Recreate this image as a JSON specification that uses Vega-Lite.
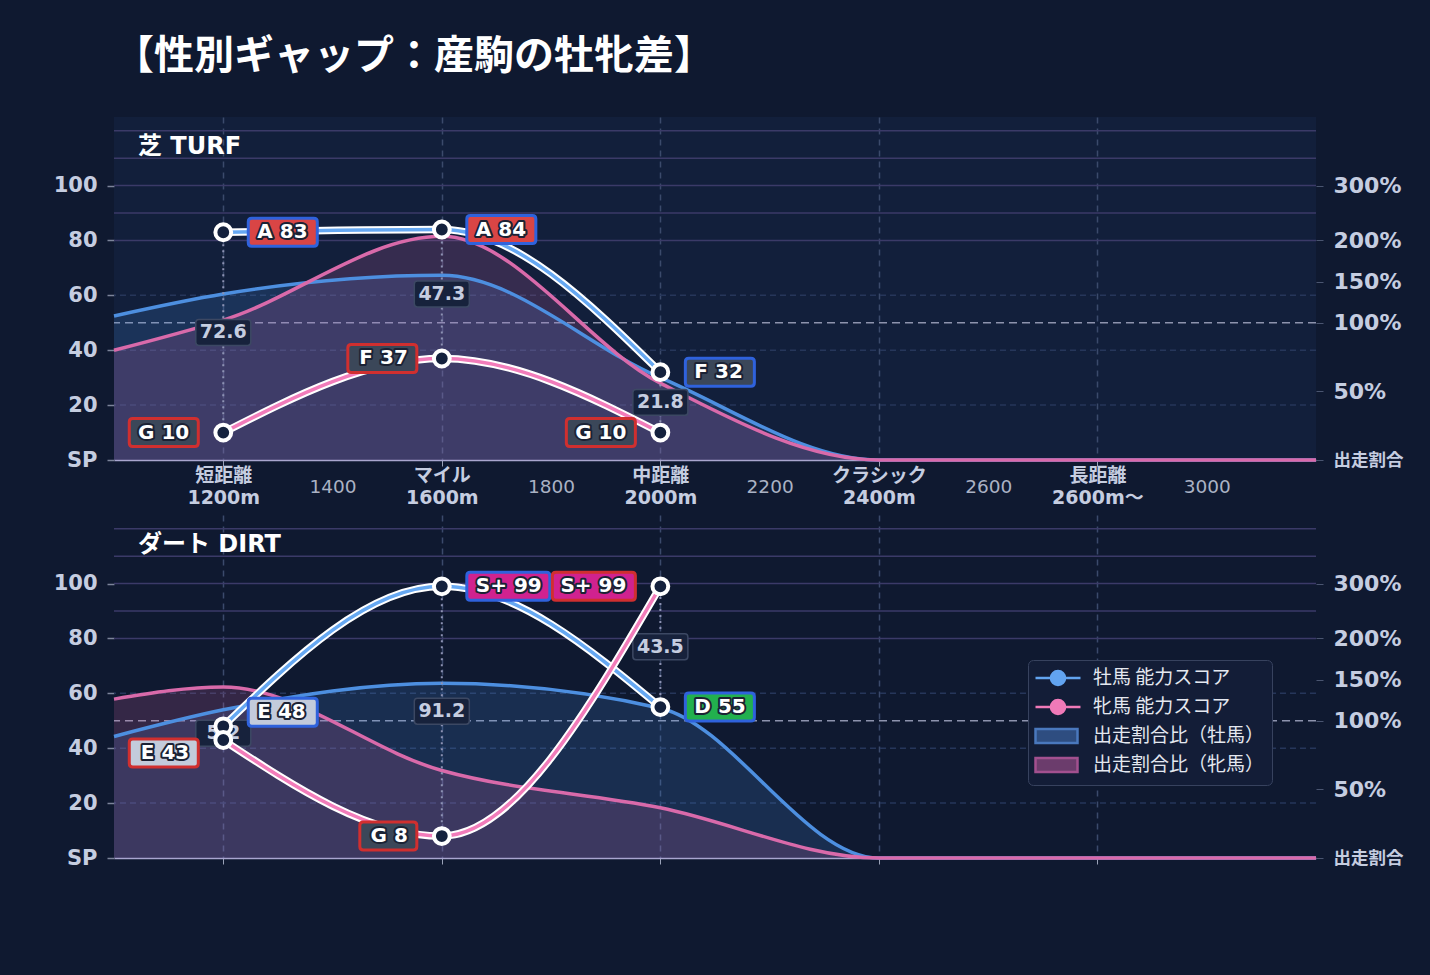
{
  "$schema": "https://vega.github.io/schema/vega-lite/v6.json",
  "background": "#0f1930",
  "padding": {"left": 53, "top": 37, "right": 30, "bottom": 120},
  "title": {
    "text": "【性別ギャップ：産駒の牡牝差】",
    "anchor": "start",
    "frame": "group",
    "font": "Noto Sans CJK JP",
    "fontSize": 40,
    "fontWeight": "bold",
    "color": "#ffffff",
    "offset": 40
  },
  "datasets": {
    "grid": [
      {"v": 20, "kind": "minor"},
      {"v": 40, "kind": "minor"},
      {"v": 60, "kind": "minor"},
      {"v": 50, "kind": "ref"},
      {"v": 80, "kind": "band"},
      {"v": 90, "kind": "band"},
      {"v": 100, "kind": "band"},
      {"v": 110, "kind": "band"},
      {"v": 120, "kind": "band"}
    ],
    "ratio": [
      {"surface": "turf", "sex": "M", "dist": 1000, "v": 52.5},
      {"surface": "turf", "sex": "M", "dist": 1200, "v": 60.5},
      {"surface": "turf", "sex": "M", "dist": 1600, "v": 67.3},
      {"surface": "turf", "sex": "M", "dist": 2000, "v": 30},
      {"surface": "turf", "sex": "M", "dist": 2400, "v": 0},
      {"surface": "turf", "sex": "M", "dist": 2800, "v": 0},
      {"surface": "turf", "sex": "M", "dist": 3200, "v": 0},
      {"surface": "turf", "sex": "F", "dist": 1000, "v": 40},
      {"surface": "turf", "sex": "F", "dist": 1200, "v": 51},
      {"surface": "turf", "sex": "F", "dist": 1600, "v": 81.5},
      {"surface": "turf", "sex": "F", "dist": 2000, "v": 28},
      {"surface": "turf", "sex": "F", "dist": 2400, "v": 0},
      {"surface": "turf", "sex": "F", "dist": 2800, "v": 0},
      {"surface": "turf", "sex": "F", "dist": 3200, "v": 0},
      {"surface": "dirt", "sex": "M", "dist": 1000, "v": 44.3},
      {"surface": "dirt", "sex": "M", "dist": 1200, "v": 54},
      {"surface": "dirt", "sex": "M", "dist": 1600, "v": 63.7},
      {"surface": "dirt", "sex": "M", "dist": 2000, "v": 54.6},
      {"surface": "dirt", "sex": "M", "dist": 2400, "v": 0},
      {"surface": "dirt", "sex": "M", "dist": 2800, "v": 0},
      {"surface": "dirt", "sex": "M", "dist": 3200, "v": 0},
      {"surface": "dirt", "sex": "F", "dist": 1000, "v": 57.9},
      {"surface": "dirt", "sex": "F", "dist": 1200, "v": 62.3},
      {"surface": "dirt", "sex": "F", "dist": 1600, "v": 31.9},
      {"surface": "dirt", "sex": "F", "dist": 2000, "v": 18.3},
      {"surface": "dirt", "sex": "F", "dist": 2400, "v": 0},
      {"surface": "dirt", "sex": "F", "dist": 2800, "v": 0},
      {"surface": "dirt", "sex": "F", "dist": 3200, "v": 0}
    ],
    "score": [
      {"surface": "turf", "sex": "M", "dist": 1200, "score": 83, "grade": "A", "label": "A 83"},
      {"surface": "turf", "sex": "M", "dist": 1600, "score": 84, "grade": "A", "label": "A 84"},
      {"surface": "turf", "sex": "M", "dist": 2000, "score": 32, "grade": "F", "label": "F 32"},
      {"surface": "turf", "sex": "F", "dist": 1200, "score": 10, "grade": "G", "label": "G 10"},
      {"surface": "turf", "sex": "F", "dist": 1600, "score": 37, "grade": "F", "label": "F 37"},
      {"surface": "turf", "sex": "F", "dist": 2000, "score": 10, "grade": "G", "label": "G 10"},
      {"surface": "dirt", "sex": "M", "dist": 1200, "score": 48, "grade": "E", "label": "E 48"},
      {"surface": "dirt", "sex": "M", "dist": 1600, "score": 99, "grade": "S+", "label": "S+ 99"},
      {"surface": "dirt", "sex": "M", "dist": 2000, "score": 55, "grade": "D", "label": "D 55"},
      {"surface": "dirt", "sex": "F", "dist": 1200, "score": 43, "grade": "E", "label": "E 43"},
      {"surface": "dirt", "sex": "F", "dist": 1600, "score": 8, "grade": "G", "label": "G 8"},
      {"surface": "dirt", "sex": "F", "dist": 2000, "score": 99, "grade": "S+", "label": "S+ 99"}
    ],
    "gap": [
      {"surface": "turf", "dist": 1200, "m": 83, "f": 10, "mid": 46.5, "val": "72.6"},
      {"surface": "turf", "dist": 1600, "m": 84, "f": 37, "mid": 60.5, "val": "47.3"},
      {"surface": "turf", "dist": 2000, "m": 32, "f": 10, "mid": 21, "val": "21.8"},
      {"surface": "dirt", "dist": 1200, "m": 48, "f": 43, "mid": 45.5, "val": "5.2"},
      {"surface": "dirt", "dist": 1600, "m": 99, "f": 8, "mid": 53.5, "val": "91.2"},
      {"surface": "dirt", "dist": 2000, "m": 55, "f": 99, "mid": 77, "val": "43.5"}
    ],
    "legend": [
      {"name": "牡馬 能力スコア"},
      {"name": "牝馬 能力スコア"},
      {"name": "出走割合比（牡馬）"},
      {"name": "出走割合比（牝馬）"}
    ]
  },
  "vconcat": [
    {
      "width": 1202,
      "height": 343,
      "title": {"text": "芝 TURF", "anchor": "start", "frame": "group", "offset": -42, "dx": 24, "fontSize": 24, "fontWeight": "bold", "color": "#ffffff"},
      "resolve": {"scale": {"shape": "independent"}, "axis": {"y": "independent"}},
      "layer": [
        {
          "data": {"name": "grid"},
          "mark": {"type": "rule", "strokeWidth": 1.5},
          "encoding": {
            "y": {"field": "v", "type": "quantitative", "scale": {"domain": [0, 125], "nice": false},
              "axis": {"orient": "left", "values": [0, 20, 40, 60, 80, 100], "labelExpr": "datum.value == 0 ? 'SP' : datum.label", "title": null, "grid": false, "domain": false, "tickSize": 7, "tickWidth": 1.5, "tickColor": "#7c849a", "labelPadding": 10, "labelFontSize": 21, "labelFontWeight": "bold", "labelColor": "#c5cde0"}},
            "color": {"field": "kind", "type": "nominal", "scale": {"domain": ["minor", "ref", "band"], "range": ["#26365a", "#8d93ad", "#3b3a68"]}, "legend": null},
            "strokeDash": {"field": "kind", "type": "nominal", "scale": {"domain": ["minor", "ref", "band"], "range": [[6, 4], [8, 5], [1, 0]]}, "legend": null}
          }
        },
        {
          "data": {"name": "ratio"},
          "transform": [{"filter": "datum.surface == 'turf' && datum.sex == 'M'"}],
          "mark": {"type": "area", "interpolate": "monotone", "color": "#4a90e2", "fillOpacity": 0.18},
          "encoding": {
            "x": {"field": "dist", "type": "quantitative", "scale": {"domain": [1000, 3200], "nice": false, "zero": false},
              "axis": {"values": [1200, 1400, 1600, 1800, 2000, 2200, 2400, 2600, 2800, 3000], "title": null,
                "labelExpr": "datum.value == 1200 ? ['短距離', '1200m'] : datum.value == 1600 ? ['マイル', '1600m'] : datum.value == 2000 ? ['中距離', '2000m'] : datum.value == 2400 ? ['クラシック', '2400m'] : datum.value == 2800 ? ['長距離', '2600m〜'] : '' + datum.value",
                "labelFontWeight": {"condition": {"test": "datum.value % 400 == 0", "value": "bold"}, "value": "normal"},
                "labelFontSize": {"condition": {"test": "datum.value % 400 == 0", "value": 19}, "value": 18.5},
                "labelColor": {"condition": {"test": "datum.value % 400 == 0", "value": "#c5cde0"}, "value": "#aab2c4"},
                "labelPadding": {"condition": {"test": "datum.value % 400 == 0", "value": 9}, "value": 20},
                "labelBaseline": "middle", "labelLineHeight": 22, "labelOverlap": false, "labelBound": false, "labelFlush": false,
                "tickSize": 6, "tickColor": "#9aa2b8", "tickOpacity": {"condition": {"test": "datum.value % 400 == 0", "value": 1}, "value": 0},
                "grid": true, "gridColor": "#3b4a6b", "gridDash": [6, 5], "gridWidth": 1.5, "gridOpacity": {"condition": {"test": "datum.value % 400 == 0", "value": 1}, "value": 0},
                "domainColor": "#a9a6cf", "domainWidth": 1.5}},
            "y": {"field": "v", "type": "quantitative", "stack": null, "scale": {"domain": [0, 125], "nice": false},
              "axis": {"orient": "right", "values": [0, 25, 50, 65, 80, 100], "labelExpr": "datum.value == 0 ? '出走割合' : datum.value == 25 ? '50%' : datum.value == 50 ? '100%' : datum.value == 65 ? '150%' : datum.value == 80 ? '200%' : '300%'", "title": null, "grid": false, "domain": false, "tickSize": 7, "tickColor": "#4a5570", "labelPadding": 10, "labelFontSize": {"condition": {"test": "datum.value == 0", "value": 17.5}, "value": 22}, "labelFontWeight": "bold", "labelColor": "#c5cde0"}}
          }
        },
        {
          "data": {"name": "ratio"},
          "transform": [{"filter": "datum.surface == 'turf' && datum.sex == 'F'"}],
          "mark": {"type": "area", "interpolate": "monotone", "color": "#e06aaa", "fillOpacity": 0.18},
          "encoding": {
            "x": {"field": "dist", "type": "quantitative"},
            "y": {"field": "v", "type": "quantitative", "stack": null, "scale": {"domain": [0, 125], "nice": false}, "axis": null}
          }
        },
        {
          "data": {"name": "ratio"},
          "transform": [{"filter": "datum.surface == 'turf' && datum.sex == 'M'"}],
          "mark": {"type": "line", "interpolate": "monotone", "color": "#4d8fe0", "strokeWidth": 3.5},
          "encoding": {
            "x": {"field": "dist", "type": "quantitative"},
            "y": {"field": "v", "type": "quantitative", "scale": {"domain": [0, 125], "nice": false}, "axis": null}
          }
        },
        {
          "data": {"name": "ratio"},
          "transform": [{"filter": "datum.surface == 'turf' && datum.sex == 'F'"}],
          "mark": {"type": "line", "interpolate": "monotone", "color": "#d96aaa", "strokeWidth": 3.5},
          "encoding": {
            "x": {"field": "dist", "type": "quantitative"},
            "y": {"field": "v", "type": "quantitative", "scale": {"domain": [0, 125], "nice": false}, "axis": null}
          }
        },
        {
          "data": {"name": "gap"},
          "transform": [{"filter": "datum.surface == 'turf'"}],
          "mark": {"type": "rule", "color": "#8d92b3", "strokeWidth": 2, "strokeDash": [2, 4]},
          "encoding": {
            "x": {"field": "dist", "type": "quantitative"},
            "y": {"field": "m", "type": "quantitative", "scale": {"domain": [0, 125], "nice": false}, "axis": null},
            "y2": {"field": "f"}
          }
        },
        {
          "data": {"name": "gap"},
          "transform": [{"filter": "datum.surface == 'turf'"}],
          "mark": {"type": "point", "shape": "M-0.696,-0.371H0.696Q0.786,-0.371 0.786,-0.281V0.281Q0.786,0.371 0.696,0.371H-0.696Q-0.786,0.371 -0.786,0.281V-0.281Q-0.786,-0.371 -0.696,-0.371Z", "filled": true, "size": 4900, "fill": "#17223c", "stroke": "#3c4863", "strokeWidth": 1.5, "opacity": 1},
          "encoding": {
            "x": {"field": "dist", "type": "quantitative"},
            "y": {"field": "mid", "type": "quantitative", "scale": {"domain": [0, 125], "nice": false}, "axis": null}
          }
        },
        {
          "data": {"name": "gap"},
          "transform": [{"filter": "datum.surface == 'turf'"}],
          "mark": {"type": "text", "fontSize": 19, "fontWeight": "bold", "fill": "#c5cde0", "baseline": "middle"},
          "encoding": {
            "x": {"field": "dist", "type": "quantitative"},
            "y": {"field": "mid", "type": "quantitative", "scale": {"domain": [0, 125], "nice": false}, "axis": null},
            "text": {"field": "val"}
          }
        },
        {
          "data": {"name": "score"},
          "transform": [{"filter": "datum.surface == 'turf' && datum.sex == 'M'"}],
          "mark": {"type": "line", "interpolate": "monotone", "color": "#ffffff", "strokeWidth": 7.5, "strokeCap": "round"},
          "encoding": {
            "x": {"field": "dist", "type": "quantitative"},
            "y": {"field": "score", "type": "quantitative", "scale": {"domain": [0, 125], "nice": false}, "axis": null}
          }
        },
        {
          "data": {"name": "score"},
          "transform": [{"filter": "datum.surface == 'turf' && datum.sex == 'M'"}],
          "mark": {"type": "line", "interpolate": "monotone", "color": "#66a8f2", "strokeWidth": 3.5, "strokeCap": "round"},
          "encoding": {
            "x": {"field": "dist", "type": "quantitative"},
            "y": {"field": "score", "type": "quantitative", "scale": {"domain": [0, 125], "nice": false}, "axis": null}
          }
        },
        {
          "data": {"name": "score"},
          "transform": [{"filter": "datum.surface == 'turf' && datum.sex == 'F'"}],
          "mark": {"type": "line", "interpolate": "monotone", "color": "#ffffff", "strokeWidth": 7.5, "strokeCap": "round"},
          "encoding": {
            "x": {"field": "dist", "type": "quantitative"},
            "y": {"field": "score", "type": "quantitative", "scale": {"domain": [0, 125], "nice": false}, "axis": null}
          }
        },
        {
          "data": {"name": "score"},
          "transform": [{"filter": "datum.surface == 'turf' && datum.sex == 'F'"}],
          "mark": {"type": "line", "interpolate": "monotone", "color": "#f27cba", "strokeWidth": 3.5, "strokeCap": "round"},
          "encoding": {
            "x": {"field": "dist", "type": "quantitative"},
            "y": {"field": "score", "type": "quantitative", "scale": {"domain": [0, 125], "nice": false}, "axis": null}
          }
        },
        {
          "data": {"name": "score"},
          "transform": [{"filter": "datum.surface == 'turf'"}],
          "mark": {"type": "point", "shape": "circle", "filled": true, "size": 250, "fill": "#14213d", "stroke": "#ffffff", "strokeWidth": 4, "opacity": 1},
          "encoding": {
            "x": {"field": "dist", "type": "quantitative"},
            "y": {"field": "score", "type": "quantitative", "scale": {"domain": [0, 125], "nice": false}, "axis": null}
          }
        },
        {
          "data": {"name": "score"},
          "transform": [{"filter": "datum.surface == 'turf' && datum.sex == 'M'"}],
          "mark": {"type": "point", "shape": "M0.814,-0.4H2.586Q2.686,-0.4 2.686,-0.3V0.3Q2.686,0.4 2.586,0.4H0.814Q0.714,0.4 0.714,0.3V-0.3Q0.714,-0.4 0.814,-0.4Z", "filled": true, "size": 4900, "stroke": "#2f62dc", "strokeWidth": 3, "opacity": 1},
          "encoding": {
            "x": {"field": "dist", "type": "quantitative"},
            "y": {"field": "score", "type": "quantitative", "scale": {"domain": [0, 125], "nice": false}, "axis": null},
            "fill": {"field": "grade", "type": "nominal", "scale": {"domain": ["A", "D", "E", "F", "G", "S+"], "range": ["#d94545", "#22b04e", "#c3cbdb", "#3b4759", "#3b4759", "#d0228f"]}, "legend": null}
          }
        },
        {
          "data": {"name": "score"},
          "transform": [{"filter": "datum.surface == 'turf' && datum.sex == 'M'"}],
          "mark": {"type": "text", "align": "left", "dx": 34, "baseline": "middle", "fontSize": 20, "fontWeight": "bold", "fill": "#1b2234", "stroke": "#1b2234", "strokeWidth": 4, "strokeJoin": "round"},
          "encoding": {
            "x": {"field": "dist", "type": "quantitative"},
            "y": {"field": "score", "type": "quantitative", "scale": {"domain": [0, 125], "nice": false}, "axis": null},
            "text": {"field": "label"}
          }
        },
        {
          "data": {"name": "score"},
          "transform": [{"filter": "datum.surface == 'turf' && datum.sex == 'M'"}],
          "mark": {"type": "text", "align": "left", "dx": 34, "baseline": "middle", "fontSize": 20, "fontWeight": "bold", "fill": "#ffffff"},
          "encoding": {
            "x": {"field": "dist", "type": "quantitative"},
            "y": {"field": "score", "type": "quantitative", "scale": {"domain": [0, 125], "nice": false}, "axis": null},
            "text": {"field": "label"}
          }
        },
        {
          "data": {"name": "score"},
          "transform": [{"filter": "datum.surface == 'turf' && datum.sex == 'F'"}],
          "mark": {"type": "point", "shape": "M-2.586,-0.4H-0.814Q-0.714,-0.4 -0.714,-0.3V0.3Q-0.714,0.4 -0.814,0.4H-2.586Q-2.686,0.4 -2.686,0.3V-0.3Q-2.686,-0.4 -2.586,-0.4Z", "filled": true, "size": 4900, "stroke": "#d02f2f", "strokeWidth": 3, "opacity": 1},
          "encoding": {
            "x": {"field": "dist", "type": "quantitative"},
            "y": {"field": "score", "type": "quantitative", "scale": {"domain": [0, 125], "nice": false}, "axis": null},
            "fill": {"field": "grade", "type": "nominal", "scale": {"domain": ["A", "D", "E", "F", "G", "S+"], "range": ["#d94545", "#22b04e", "#c3cbdb", "#3b4759", "#3b4759", "#d0228f"]}, "legend": null}
          }
        },
        {
          "data": {"name": "score"},
          "transform": [{"filter": "datum.surface == 'turf' && datum.sex == 'F'"}],
          "mark": {"type": "text", "align": "right", "dx": -34, "baseline": "middle", "fontSize": 20, "fontWeight": "bold", "fill": "#1b2234", "stroke": "#1b2234", "strokeWidth": 4, "strokeJoin": "round"},
          "encoding": {
            "x": {"field": "dist", "type": "quantitative"},
            "y": {"field": "score", "type": "quantitative", "scale": {"domain": [0, 125], "nice": false}, "axis": null},
            "text": {"field": "label"}
          }
        },
        {
          "data": {"name": "score"},
          "transform": [{"filter": "datum.surface == 'turf' && datum.sex == 'F'"}],
          "mark": {"type": "text", "align": "right", "dx": -34, "baseline": "middle", "fontSize": 20, "fontWeight": "bold", "fill": "#ffffff"},
          "encoding": {
            "x": {"field": "dist", "type": "quantitative"},
            "y": {"field": "score", "type": "quantitative", "scale": {"domain": [0, 125], "nice": false}, "axis": null},
            "text": {"field": "label"}
          }
        }
      ]
    },
    {
      "width": 1202,
      "height": 343,
      "title": {"text": "ダート DIRT", "anchor": "start", "frame": "group", "offset": -42, "dx": 24, "fontSize": 24, "fontWeight": "bold", "color": "#ffffff"},
      "resolve": {"scale": {"shape": "independent", "fill": "independent", "stroke": "independent"}, "axis": {"y": "independent"}},
      "layer": [
        {
          "data": {"name": "grid"},
          "mark": {"type": "rule", "strokeWidth": 1.5},
          "encoding": {
            "y": {"field": "v", "type": "quantitative", "scale": {"domain": [0, 125], "nice": false},
              "axis": {"orient": "left", "values": [0, 20, 40, 60, 80, 100], "labelExpr": "datum.value == 0 ? 'SP' : datum.label", "title": null, "grid": false, "domain": false, "tickSize": 7, "tickWidth": 1.5, "tickColor": "#7c849a", "labelPadding": 10, "labelFontSize": 21, "labelFontWeight": "bold", "labelColor": "#c5cde0"}},
            "color": {"field": "kind", "type": "nominal", "scale": {"domain": ["minor", "ref", "band"], "range": ["#26365a", "#8d93ad", "#3b3a68"]}, "legend": null},
            "strokeDash": {"field": "kind", "type": "nominal", "scale": {"domain": ["minor", "ref", "band"], "range": [[6, 4], [8, 5], [1, 0]]}, "legend": null}
          }
        },
        {
          "data": {"name": "ratio"},
          "transform": [{"filter": "datum.surface == 'dirt' && datum.sex == 'M'"}],
          "mark": {"type": "area", "interpolate": "monotone", "color": "#4a90e2", "fillOpacity": 0.18},
          "encoding": {
            "x": {"field": "dist", "type": "quantitative", "scale": {"domain": [1000, 3200], "nice": false, "zero": false},
              "axis": {"values": [1200, 1400, 1600, 1800, 2000, 2200, 2400, 2600, 2800, 3000], "title": null, "labels": false,
                "tickSize": 6, "tickColor": "#9aa2b8", "tickOpacity": {"condition": {"test": "datum.value % 400 == 0", "value": 1}, "value": 0},
                "grid": true, "gridColor": "#3b4a6b", "gridDash": [6, 5], "gridWidth": 1.5, "gridOpacity": {"condition": {"test": "datum.value % 400 == 0", "value": 1}, "value": 0},
                "domainColor": "#a9a6cf", "domainWidth": 1.5}},
            "y": {"field": "v", "type": "quantitative", "stack": null, "scale": {"domain": [0, 125], "nice": false},
              "axis": {"orient": "right", "values": [0, 25, 50, 65, 80, 100], "labelExpr": "datum.value == 0 ? '出走割合' : datum.value == 25 ? '50%' : datum.value == 50 ? '100%' : datum.value == 65 ? '150%' : datum.value == 80 ? '200%' : '300%'", "title": null, "grid": false, "domain": false, "tickSize": 7, "tickColor": "#4a5570", "labelPadding": 10, "labelFontSize": {"condition": {"test": "datum.value == 0", "value": 17.5}, "value": 22}, "labelFontWeight": "bold", "labelColor": "#c5cde0"}}
          }
        },
        {
          "data": {"name": "ratio"},
          "transform": [{"filter": "datum.surface == 'dirt' && datum.sex == 'F'"}],
          "mark": {"type": "area", "interpolate": "monotone", "color": "#e06aaa", "fillOpacity": 0.18},
          "encoding": {
            "x": {"field": "dist", "type": "quantitative"},
            "y": {"field": "v", "type": "quantitative", "stack": null, "scale": {"domain": [0, 125], "nice": false}, "axis": null}
          }
        },
        {
          "data": {"name": "ratio"},
          "transform": [{"filter": "datum.surface == 'dirt' && datum.sex == 'M'"}],
          "mark": {"type": "line", "interpolate": "monotone", "color": "#4d8fe0", "strokeWidth": 3.5},
          "encoding": {
            "x": {"field": "dist", "type": "quantitative"},
            "y": {"field": "v", "type": "quantitative", "scale": {"domain": [0, 125], "nice": false}, "axis": null}
          }
        },
        {
          "data": {"name": "ratio"},
          "transform": [{"filter": "datum.surface == 'dirt' && datum.sex == 'F'"}],
          "mark": {"type": "line", "interpolate": "monotone", "color": "#d96aaa", "strokeWidth": 3.5},
          "encoding": {
            "x": {"field": "dist", "type": "quantitative"},
            "y": {"field": "v", "type": "quantitative", "scale": {"domain": [0, 125], "nice": false}, "axis": null}
          }
        },
        {
          "data": {"name": "gap"},
          "transform": [{"filter": "datum.surface == 'dirt'"}],
          "mark": {"type": "rule", "color": "#8d92b3", "strokeWidth": 2, "strokeDash": [2, 4]},
          "encoding": {
            "x": {"field": "dist", "type": "quantitative"},
            "y": {"field": "m", "type": "quantitative", "scale": {"domain": [0, 125], "nice": false}, "axis": null},
            "y2": {"field": "f"}
          }
        },
        {
          "data": {"name": "gap"},
          "transform": [{"filter": "datum.surface == 'dirt'"}],
          "mark": {"type": "point", "shape": "M-0.696,-0.371H0.696Q0.786,-0.371 0.786,-0.281V0.281Q0.786,0.371 0.696,0.371H-0.696Q-0.786,0.371 -0.786,0.281V-0.281Q-0.786,-0.371 -0.696,-0.371Z", "filled": true, "size": 4900, "fill": "#17223c", "stroke": "#3c4863", "strokeWidth": 1.5, "opacity": 1},
          "encoding": {
            "x": {"field": "dist", "type": "quantitative"},
            "y": {"field": "mid", "type": "quantitative", "scale": {"domain": [0, 125], "nice": false}, "axis": null}
          }
        },
        {
          "data": {"name": "gap"},
          "transform": [{"filter": "datum.surface == 'dirt'"}],
          "mark": {"type": "text", "fontSize": 19, "fontWeight": "bold", "fill": "#c5cde0", "baseline": "middle"},
          "encoding": {
            "x": {"field": "dist", "type": "quantitative"},
            "y": {"field": "mid", "type": "quantitative", "scale": {"domain": [0, 125], "nice": false}, "axis": null},
            "text": {"field": "val"}
          }
        },
        {
          "data": {"name": "score"},
          "transform": [{"filter": "datum.surface == 'dirt' && datum.sex == 'M'"}],
          "mark": {"type": "line", "interpolate": "monotone", "color": "#ffffff", "strokeWidth": 7.5, "strokeCap": "round"},
          "encoding": {
            "x": {"field": "dist", "type": "quantitative"},
            "y": {"field": "score", "type": "quantitative", "scale": {"domain": [0, 125], "nice": false}, "axis": null}
          }
        },
        {
          "data": {"name": "score"},
          "transform": [{"filter": "datum.surface == 'dirt' && datum.sex == 'M'"}],
          "mark": {"type": "line", "interpolate": "monotone", "color": "#66a8f2", "strokeWidth": 3.5, "strokeCap": "round"},
          "encoding": {
            "x": {"field": "dist", "type": "quantitative"},
            "y": {"field": "score", "type": "quantitative", "scale": {"domain": [0, 125], "nice": false}, "axis": null}
          }
        },
        {
          "data": {"name": "score"},
          "transform": [{"filter": "datum.surface == 'dirt' && datum.sex == 'F'"}],
          "mark": {"type": "line", "interpolate": "monotone", "color": "#ffffff", "strokeWidth": 7.5, "strokeCap": "round"},
          "encoding": {
            "x": {"field": "dist", "type": "quantitative"},
            "y": {"field": "score", "type": "quantitative", "scale": {"domain": [0, 125], "nice": false}, "axis": null}
          }
        },
        {
          "data": {"name": "score"},
          "transform": [{"filter": "datum.surface == 'dirt' && datum.sex == 'F'"}],
          "mark": {"type": "line", "interpolate": "monotone", "color": "#f27cba", "strokeWidth": 3.5, "strokeCap": "round"},
          "encoding": {
            "x": {"field": "dist", "type": "quantitative"},
            "y": {"field": "score", "type": "quantitative", "scale": {"domain": [0, 125], "nice": false}, "axis": null}
          }
        },
        {
          "data": {"name": "score"},
          "transform": [{"filter": "datum.surface == 'dirt'"}],
          "mark": {"type": "point", "shape": "circle", "filled": true, "size": 250, "fill": "#14213d", "stroke": "#ffffff", "strokeWidth": 4, "opacity": 1},
          "encoding": {
            "x": {"field": "dist", "type": "quantitative"},
            "y": {"field": "score", "type": "quantitative", "scale": {"domain": [0, 125], "nice": false}, "axis": null}
          }
        },
        {
          "data": {"name": "score"},
          "transform": [{"filter": "datum.surface == 'dirt' && datum.sex == 'M'"}],
          "mark": {"type": "point", "filled": true, "size": 4900, "stroke": "#2f62dc", "strokeWidth": 3, "opacity": 1, "yOffset": {"expr": "datum.dist == 1200 ? -14 : 0"}},
          "encoding": {
            "x": {"field": "dist", "type": "quantitative"},
            "y": {"field": "score", "type": "quantitative", "scale": {"domain": [0, 125], "nice": false}, "axis": null},
            "fill": {"field": "grade", "type": "nominal", "scale": {"domain": ["A", "D", "E", "F", "G", "S+"], "range": ["#d94545", "#22b04e", "#c3cbdb", "#3b4759", "#3b4759", "#d0228f"]}, "legend": null},
            "shape": {"field": "label", "type": "nominal", "scale": {"domain": ["E 48", "S+ 99", "D 55"], "range": [
              "M0.814,-0.4H2.586Q2.686,-0.4 2.686,-0.3V0.3Q2.686,0.4 2.586,0.4H0.814Q0.714,0.4 0.714,0.3V-0.3Q0.714,-0.4 0.814,-0.4Z",
              "M0.814,-0.4H2.986Q3.086,-0.4 3.086,-0.3V0.3Q3.086,0.4 2.986,0.4H0.814Q0.714,0.4 0.714,0.3V-0.3Q0.714,-0.4 0.814,-0.4Z",
              "M0.814,-0.4H2.586Q2.686,-0.4 2.686,-0.3V0.3Q2.686,0.4 2.586,0.4H0.814Q0.714,0.4 0.714,0.3V-0.3Q0.714,-0.4 0.814,-0.4Z"]}, "legend": null}
          }
        },
        {
          "data": {"name": "score"},
          "transform": [{"filter": "datum.surface == 'dirt' && datum.sex == 'M'"}],
          "mark": {"type": "text", "align": "left", "dx": 34, "baseline": "middle", "fontSize": 20, "fontWeight": "bold", "fill": "#1b2234", "stroke": "#1b2234", "strokeWidth": 4, "strokeJoin": "round", "yOffset": {"expr": "datum.dist == 1200 ? -14 : 0"}},
          "encoding": {
            "x": {"field": "dist", "type": "quantitative"},
            "y": {"field": "score", "type": "quantitative", "scale": {"domain": [0, 125], "nice": false}, "axis": null},
            "text": {"field": "label"}
          }
        },
        {
          "data": {"name": "score"},
          "transform": [{"filter": "datum.surface == 'dirt' && datum.sex == 'M'"}],
          "mark": {"type": "text", "align": "left", "dx": 34, "baseline": "middle", "fontSize": 20, "fontWeight": "bold", "fill": "#ffffff", "yOffset": {"expr": "datum.dist == 1200 ? -14 : 0"}},
          "encoding": {
            "x": {"field": "dist", "type": "quantitative"},
            "y": {"field": "score", "type": "quantitative", "scale": {"domain": [0, 125], "nice": false}, "axis": null},
            "text": {"field": "label"}
          }
        },
        {
          "data": {"name": "score"},
          "transform": [{"filter": "datum.surface == 'dirt' && datum.sex == 'F'"}],
          "mark": {"type": "point", "filled": true, "size": 4900, "stroke": "#d02f2f", "strokeWidth": 3, "opacity": 1, "yOffset": {"expr": "datum.dist == 1200 ? 13 : 0"}},
          "encoding": {
            "x": {"field": "dist", "type": "quantitative"},
            "y": {"field": "score", "type": "quantitative", "scale": {"domain": [0, 125], "nice": false}, "axis": null},
            "fill": {"field": "grade", "type": "nominal", "scale": {"domain": ["A", "D", "E", "F", "G", "S+"], "range": ["#d94545", "#22b04e", "#c3cbdb", "#3b4759", "#3b4759", "#d0228f"]}, "legend": null},
            "shape": {"field": "label", "type": "nominal", "scale": {"domain": ["E 43", "G 8", "S+ 99"], "range": [
              "M-2.586,-0.4H-0.814Q-0.714,-0.4 -0.714,-0.3V0.3Q-0.714,0.4 -0.814,0.4H-2.586Q-2.686,0.4 -2.686,0.3V-0.3Q-2.686,-0.4 -2.586,-0.4Z",
              "M-2.243,-0.4H-0.814Q-0.714,-0.4 -0.714,-0.3V0.3Q-0.714,0.4 -0.814,0.4H-2.243Q-2.343,0.4 -2.343,0.3V-0.3Q-2.343,-0.4 -2.243,-0.4Z",
              "M-2.986,-0.4H-0.814Q-0.714,-0.4 -0.714,-0.3V0.3Q-0.714,0.4 -0.814,0.4H-2.986Q-3.086,0.4 -3.086,0.3V-0.3Q-3.086,-0.4 -2.986,-0.4Z"]}, "legend": null}
          }
        },
        {
          "data": {"name": "score"},
          "transform": [{"filter": "datum.surface == 'dirt' && datum.sex == 'F'"}],
          "mark": {"type": "text", "align": "right", "dx": -34, "baseline": "middle", "fontSize": 20, "fontWeight": "bold", "fill": "#1b2234", "stroke": "#1b2234", "strokeWidth": 4, "strokeJoin": "round", "yOffset": {"expr": "datum.dist == 1200 ? 13 : 0"}},
          "encoding": {
            "x": {"field": "dist", "type": "quantitative"},
            "y": {"field": "score", "type": "quantitative", "scale": {"domain": [0, 125], "nice": false}, "axis": null},
            "text": {"field": "label"}
          }
        },
        {
          "data": {"name": "score"},
          "transform": [{"filter": "datum.surface == 'dirt' && datum.sex == 'F'"}],
          "mark": {"type": "text", "align": "right", "dx": -34, "baseline": "middle", "fontSize": 20, "fontWeight": "bold", "fill": "#ffffff", "yOffset": {"expr": "datum.dist == 1200 ? 13 : 0"}},
          "encoding": {
            "x": {"field": "dist", "type": "quantitative"},
            "y": {"field": "score", "type": "quantitative", "scale": {"domain": [0, 125], "nice": false}, "axis": null},
            "text": {"field": "label"}
          }
        },
        {
          "data": {"name": "legend"},
          "mark": {"type": "point", "filled": true, "opacity": 0},
          "encoding": {
            "fill": {"field": "name", "type": "nominal", "scale": {"domain": ["牡馬 能力スコア", "牝馬 能力スコア", "出走割合比（牡馬）", "出走割合比（牝馬）"], "range": ["#62a4f0", "#f07ab8", "#2e4d80", "#6b3c6c"]},
              "legend": {"title": null, "orient": "none", "legendX": 914, "legendY": 145, "fillColor": "#131d37", "strokeColor": "#37425e", "cornerRadius": 5, "padding": 7, "labelFontSize": 19, "labelColor": "#e4e8f0", "labelFont": "Noto Sans CJK JP", "labelLimit": 400, "symbolSize": 361, "symbolStrokeWidth": 2.5, "symbolOpacity": 1, "symbolFillColor": "#2e4d80", "rowPadding": 3, "labelOffset": 36}},
            "stroke": {"field": "name", "type": "nominal", "scale": {"domain": ["牡馬 能力スコア", "牝馬 能力スコア", "出走割合比（牡馬）", "出走割合比（牝馬）"], "range": ["#62a4f0", "#f07ab8", "#4a78bd", "#a2508f"]}, "legend": {"title": null, "symbolFillColor": "#2e4d80"}},
            "shape": {"field": "name", "type": "nominal", "scale": {"domain": ["牡馬 能力スコア", "牝馬 能力スコア", "出走割合比（牡馬）", "出走割合比（牝馬）"], "range": [
              "M-1.105,0H0.523M2.003,0H3.63M2.003,0A0.74,0.74 0 1,1 0.523,0A0.74,0.74 0 1,1 2.003,0Z",
              "M-1.105,0H0.523M2.003,0H3.63M2.003,0A0.74,0.74 0 1,1 0.523,0A0.74,0.74 0 1,1 2.003,0Z",
              "M-1.105,-0.74H3.316V0.74H-1.105Z",
              "M-1.105,-0.74H3.316V0.74H-1.105Z"]}, "legend": {"title": null, "symbolFillColor": "#2e4d80"}}
          }
        }
      ]
    }
  ],
  "config": {
    "font": "DejaVu Sans, Noto Sans CJK JP",
    "view": {"stroke": null, "fill": "#121f3b"},
    "concat": {"spacing": 8}
  }
}
